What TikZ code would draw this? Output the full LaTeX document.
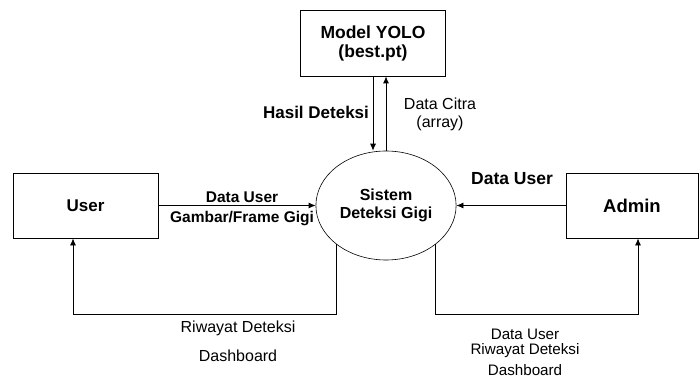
\documentclass[tikz,border=0pt]{standalone}
\usepackage{fontspec}
\setmainfont{Liberation Sans}
\usetikzlibrary{shapes.geometric, arrows.meta}

\begin{document}
\begin{tikzpicture}[x=1pt, y=-1pt, main/.style={draw, rectangle, line width=0.8pt, align=center, font=\bfseries\fontsize{17}{19}\selectfont}, proc/.style={draw, ellipse, minimum width=122pt, minimum height=109pt, line width=0.6pt, align=center, font=\bfseries\fontsize{16}{18}\selectfont}, info/.style={align=center, inner sep=0pt}, n/.style={-{Latex[length=7pt, width=6pt]}, line width=0.8pt}]
            \useasboundingbox (0,0) rectangle (700,379);
            % nodes
            \node[main, minimum width=145pt, minimum height=66pt, font=\bfseries\fontsize{17.5}{19}\selectfont] (yolo) at (373,43) {Model YOLO\\(best.pt)};
            \node[proc] (sistem) at (386,205.5) {Sistem\\Deteksi Gigi};
            \node[main, minimum width=145pt, minimum height=65pt] (user) at (85.5,205.5) {User};
            \node[main, minimum width=132pt, minimum height=65pt, font=\bfseries\fontsize{18.5}{20}\selectfont] (admin) at (632,205.5) {Admin};
            \coordinate (base) at (0,314);

            \node[info, font=\bfseries\fontsize{17}{19}\selectfont] (hasil) at (316,112) {Hasil Deteksi};
            \node[info, font=\fontsize{16}{18}\selectfont] (citra) at (440,114) {Data Citra\\(array)};
            \node[info, font=\bfseries\fontsize{15.5}{20}\selectfont] (inuser) at (242,209) {Data User\\Gambar/Frame Gigi};
            \node[info, font=\bfseries\fontsize{17.5}{19}\selectfont] (inadmin) at (512,179) {Data User};
            \node[info, font=\fontsize{16}{29}\selectfont] (outuser) at (238,341) {Riwayat Deteksi\\Dashboard};
            \node[info, font=\fontsize{15.2}{15}\selectfont] (outadmin) at (525,352) {Data User\\Riwayat Deteksi\\[6pt]Dashboard};
            % edges
            \draw [n] (yolo.south) -- (yolo.south |- sistem.north);
            \draw [n] (sistem.north) -- (sistem.north |- yolo.south);

            \draw [n] (user.east) -- (user.east -| sistem.west);
            \draw [n] (admin.west) -- (admin.west -| sistem.east);

            \draw [n] (sistem.218) -- (sistem.218 |- base) -| ([xshift=-12.5pt]user.south);
            \draw [n] (sistem.-38) -- (sistem.-38 |- base) -| ([xshift=6pt]admin.south);
        \end{tikzpicture}
\end{document}
